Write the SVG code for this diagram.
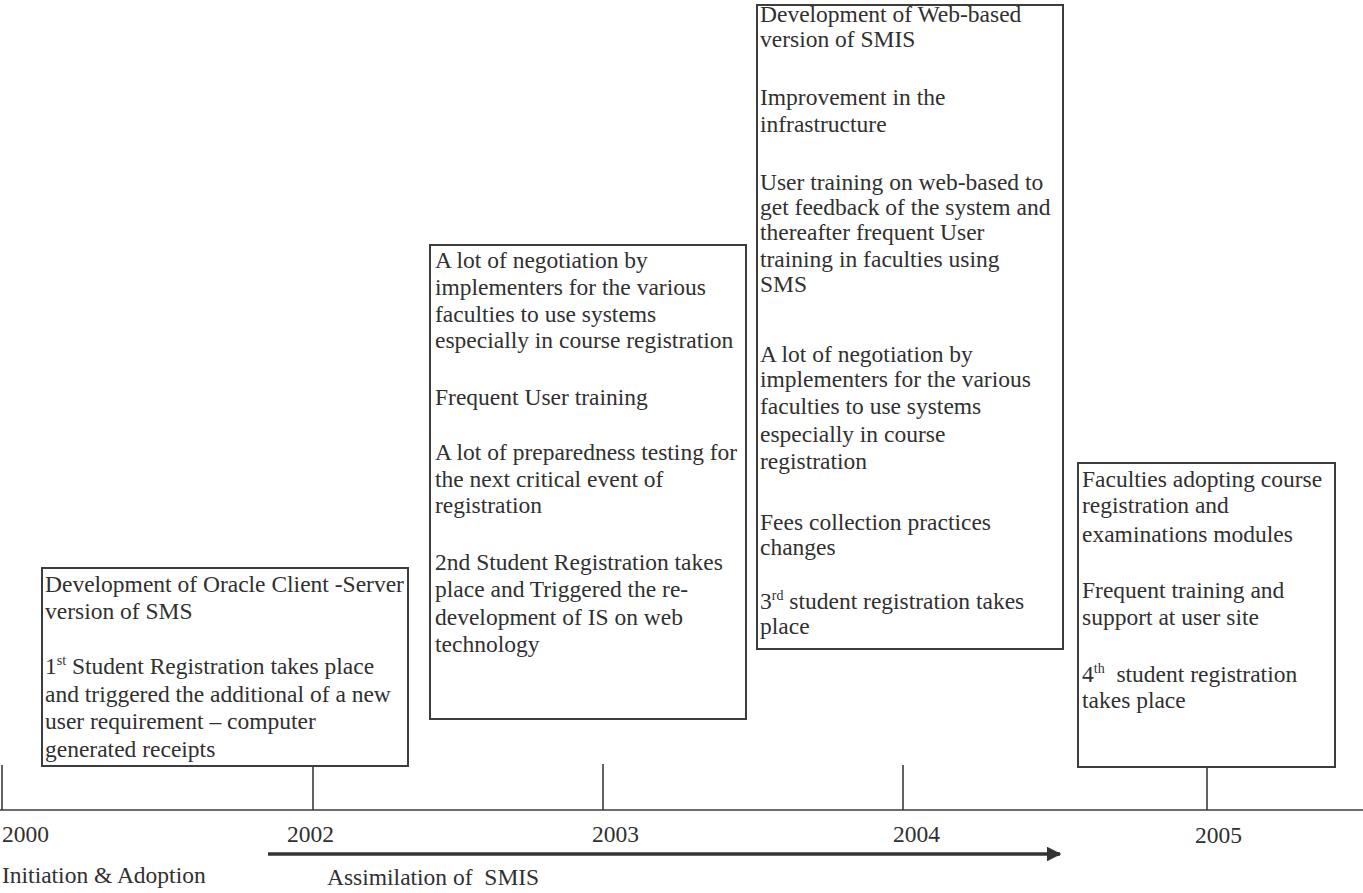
<svg xmlns="http://www.w3.org/2000/svg" width="1363" height="893" viewBox="0 0 1363 893">
  <style>
    text { font-family: "Liberation Serif", "Times New Roman", serif; font-size: 23.5px; fill: #303030; }
    .box { fill: #ffffff; stroke: #3c3c3c; stroke-width: 2; }
    .line { stroke: #3c3c3c; stroke-width: 1.6; fill: none; }
    .arrow { stroke: #333333; stroke-width: 3.5; fill: none; }
    .sup { font-size: 14px; }
  </style>
  <defs>
    <marker id="head" viewBox="0 0 10 10" refX="9" refY="5" markerWidth="4.2" markerHeight="4.2" markerUnits="strokeWidth" orient="auto">
      <path d="M0,0 L10,5 L0,10 Z" fill="#333333"/>
    </marker>
  </defs>
  <rect width="1363" height="893" fill="#ffffff"/>

  <!-- timeline axis, ticks and box connectors -->
  <g id="connectors">
    <line class="line" x1="0" y1="810" x2="1363" y2="810"/>
    <line class="line" x1="2" y1="765" x2="2" y2="810"/>
    <line class="line" x1="313" y1="766" x2="313" y2="810"/>
    <line class="line" x1="603" y1="764" x2="603" y2="810"/>
    <line class="line" x1="903" y1="765" x2="903" y2="810"/>
    <line class="line" x1="1207" y1="767" x2="1207" y2="810"/>
    <line class="arrow" x1="268" y1="854" x2="1060" y2="854" marker-end="url(#head)"/>
  </g>

  <!-- year labels and phase names -->
  <g id="labels">
    <text x="2" y="842">2000</text>
    <text x="287" y="842">2002</text>
    <text x="592" y="842">2003</text>
    <text x="893" y="842">2004</text>
    <text x="1195" y="843">2005</text>
    <text x="2" y="883">Initiation &amp; Adoption</text>
    <text x="327" y="885" xml:space="preserve">Assimilation of  SMIS</text>
  </g>

  <g id="event-2002">
    <rect class="box" x="42" y="568" width="366" height="198"/>
    <text x="45" y="592">Development of Oracle Client -Server</text>
    <text x="45" y="619">version of SMS</text>
    <text x="45" y="674">1<tspan class="sup" dy="-9">st</tspan><tspan dy="9"> Student Registration takes place</tspan></text>
    <text x="45" y="702">and triggered the additional of a new</text>
    <text x="45" y="729">user requirement – computer</text>
    <text x="45" y="757">generated receipts</text>
  </g>

  <g id="event-2003">
    <rect class="box" x="430" y="245" width="316" height="474"/>
    <text x="435" y="268">A lot of negotiation by</text>
    <text x="435" y="295">implementers for the various</text>
    <text x="435" y="322">faculties to use systems</text>
    <text x="435" y="348">especially in course registration</text>
    <text x="435" y="405">Frequent User training</text>
    <text x="435" y="460">A lot of preparedness testing for</text>
    <text x="435" y="487">the next critical event of</text>
    <text x="435" y="513">registration</text>
    <text x="435" y="570">2nd Student Registration takes</text>
    <text x="435" y="597">place and Triggered the re-</text>
    <text x="435" y="625">development of IS on web</text>
    <text x="435" y="652">technology</text>
  </g>

  <g id="event-2004">
    <rect class="box" x="757" y="5" width="306" height="644"/>
    <text x="760" y="22">Development of Web-based</text>
    <text x="760" y="47">version of SMIS</text>
    <text x="760" y="105">Improvement in the</text>
    <text x="760" y="132">infrastructure</text>
    <text x="760" y="190">User training on web-based to</text>
    <text x="760" y="215">get feedback of the system and</text>
    <text x="760" y="240">thereafter frequent User</text>
    <text x="760" y="267">training in faculties using</text>
    <text x="760" y="292">SMS</text>
    <text x="760" y="362">A lot of negotiation by</text>
    <text x="760" y="387">implementers for the various</text>
    <text x="760" y="414">faculties to use systems</text>
    <text x="760" y="442">especially in course</text>
    <text x="760" y="469">registration</text>
    <text x="760" y="530">Fees collection practices</text>
    <text x="760" y="555">changes</text>
    <text x="760" y="609">3<tspan class="sup" dy="-9">rd</tspan><tspan dy="9"> student registration takes</tspan></text>
    <text x="760" y="634">place</text>
  </g>

  <g id="event-2005">
    <rect class="box" x="1078" y="463" width="257" height="304"/>
    <text x="1082" y="487">Faculties adopting course</text>
    <text x="1082" y="513">registration and</text>
    <text x="1082" y="542">examinations modules</text>
    <text x="1082" y="598">Frequent training and</text>
    <text x="1082" y="625">support at user site</text>
    <text x="1082" y="682" xml:space="preserve">4<tspan class="sup" dy="-9">th</tspan><tspan dy="9">  student registration</tspan></text>
    <text x="1082" y="708">takes place</text>
  </g>
</svg>
